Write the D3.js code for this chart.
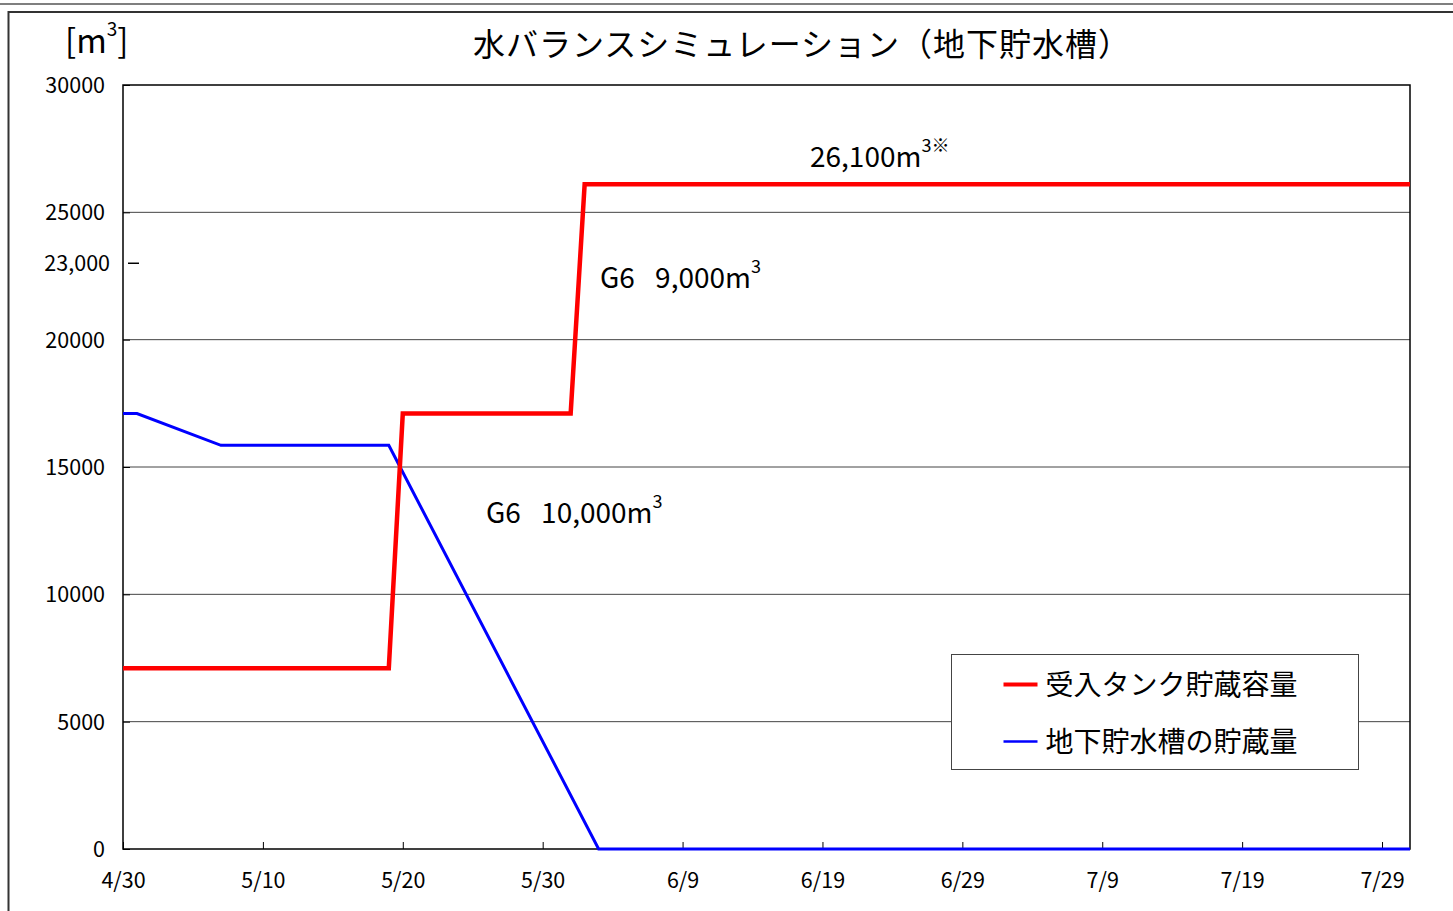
<!DOCTYPE html>
<html>
<head>
<meta charset="utf-8">
<script src="https://cdn.jsdelivr.net/npm/d3@7"></script>
<style>
  body { margin: 0; background: #fff; }
  svg text { font-family: "Noto Sans CJK JP", "Noto Sans", sans-serif; fill: #000; }
</style>
</head>
<body>
<svg id="chart" width="1453" height="911"></svg>
<script>
// データ
const seriesNames = ['受入タンク貯蔵容量', '地下貯水槽の貯蔵量'];
const tankDates = ['2011-04-30', '2011-05-19', '2011-05-20', '2011-06-01', '2011-06-02', '2011-07-31'];
const tankValues = [7100, 7100, 17100, 17100, 26100, 26100];
const poolDates = ['2011-04-30', '2011-05-01', '2011-05-07', '2011-05-19', '2011-06-03', '2011-07-31'];
const poolValues = [17100, 17100, 15850, 15850, 0, 0];
const yTicks = [0, 5000, 10000, 15000, 20000, 25000, 30000];
const xTickDates = ['2011-04-30', '2011-05-10', '2011-05-20', '2011-05-30', '2011-06-09',
  '2011-06-19', '2011-06-29', '2011-07-09', '2011-07-19', '2011-07-29'];

const parse = d3.timeParse('%Y-%m-%d');
const margin = { top: 85, right: 43, bottom: 62, left: 123 };
const width = 1453 - margin.left - margin.right;
const height = 911 - margin.top - margin.bottom;

const root = d3.select('#chart');

// 外枠
root.append('line').attr('x1', 0).attr('x2', 1453).attr('y1', 4).attr('y2', 4)
  .attr('stroke', '#555').attr('stroke-width', 1.5);
root.append('path').attr('d', 'M1460,12 H8.5 V920')
  .attr('fill', 'none').attr('stroke', '#333').attr('stroke-width', 2);

const svg = root.append('g').attr('transform', `translate(${margin.left},${margin.top})`);

const x = d3.scaleTime()
  .domain([parse('2011-04-30'), parse('2011-07-31')])
  .range([0, width]);
const y = d3.scaleLinear().domain([0, 30000]).range([height, 0]);

// 目盛線
svg.append('g')
  .selectAll('line')
  .data(yTicks.filter((d) => d > 0 && d < 30000))
  .join('line')
  .attr('x1', 0).attr('x2', width)
  .attr('y1', (d) => y(d)).attr('y2', (d) => y(d))
  .attr('stroke', '#444').attr('stroke-width', 1);

// Y軸
const yAxis = svg.append('g')
  .call(d3.axisLeft(y).tickValues(yTicks).tickSize(-7).tickPadding(18).tickFormat(d3.format('d')));
yAxis.select('.domain').remove();
yAxis.selectAll('.tick line').attr('stroke', '#000');
yAxis.selectAll('.tick text').style('font-size', '21.5px').attr('dy', '0.35em');

// X軸
const xAxis = svg.append('g')
  .attr('transform', `translate(0,${height})`)
  .call(d3.axisBottom(x).tickValues(xTickDates.map(parse)).tickSize(-7).tickPadding(24)
    .tickFormat((d) => `${d.getMonth() + 1}/${d.getDate()}`));
xAxis.select('.domain').remove();
xAxis.selectAll('.tick line').attr('stroke', '#000');
xAxis.selectAll('.tick text').style('font-size', '21.5px');

// 枠
svg.append('rect').attr('width', width).attr('height', height)
  .attr('fill', 'none').attr('stroke', '#000').attr('stroke-width', 1.5);

// 23,000 ラベル
svg.append('text').attr('x', -13).attr('y', y(23000)).attr('dy', '0.35em')
  .attr('text-anchor', 'end').style('font-size', '21.5px').text('23,000');
svg.append('line').attr('x1', 5).attr('x2', 16)
  .attr('y1', y(23000)).attr('y2', y(23000)).attr('stroke', '#000').attr('stroke-width', 1.5);

const line = d3.line().x((d) => x(d[0])).y((d) => y(d[1]));

svg.append('path')
  .datum(poolDates.map((d, i) => [parse(d), poolValues[i]]))
  .attr('d', line).attr('fill', 'none').attr('stroke', '#0000ff').attr('stroke-width', 3)
  .attr('stroke-linejoin', 'miter');

svg.append('path')
  .datum(tankDates.map((d, i) => [parse(d), tankValues[i]]))
  .attr('d', line).attr('fill', 'none').attr('stroke', '#ff0000').attr('stroke-width', 4.5)
  .attr('stroke-linejoin', 'miter');

// 注記
function note(px, py, main, tail) {
  const t = svg.append('text').attr('x', px - margin.left).attr('y', py - margin.top)
    .style('font-size', '28px');
  t.append('tspan').text(main);
  t.append('tspan').attr('dy', -15).style('font-size', '18px').text(tail);
}
note(810, 167, '26,100m', '3※');
note(600, 288, 'G6\u2002 9,000m', '3');
note(486, 523, 'G6\u2002 10,000m', '3');

// 凡例
const legend = root.append('g').attr('transform', 'translate(951.5,654.5)');
legend.append('rect').attr('width', 407).attr('height', 115)
  .attr('fill', '#fff').attr('stroke', '#444').attr('stroke-width', 1);
const colors = ['#ff0000', '#0000ff'];
seriesNames.forEach((name, i) => {
  const ly = 30 + i * 57;
  legend.append('line').attr('x1', 52).attr('x2', 86).attr('y1', ly).attr('y2', ly)
    .attr('stroke', colors[i]).attr('stroke-width', i === 0 ? 4 : 2.5);
  legend.append('text').attr('x', 94).attr('y', ly).attr('dy', '0.36em')
    .style('font-size', '28px').text(name);
});

// タイトル
root.append('text').attr('x', 473).attr('y', 45).attr('dy', '0.35em')
  .style('font-size', '32px').style('letter-spacing', '1px')
  .text('水バランスシミュレーション（地下貯水槽）');

const unit = root.append('text').attr('x', 65).attr('y', 53).style('font-size', '33px');
unit.append('tspan').text('[m');
unit.append('tspan').attr('dy', -17).style('font-size', '19px').text('3');
unit.append('tspan').attr('dy', 17).text(']');
</script>
</body>
</html>
